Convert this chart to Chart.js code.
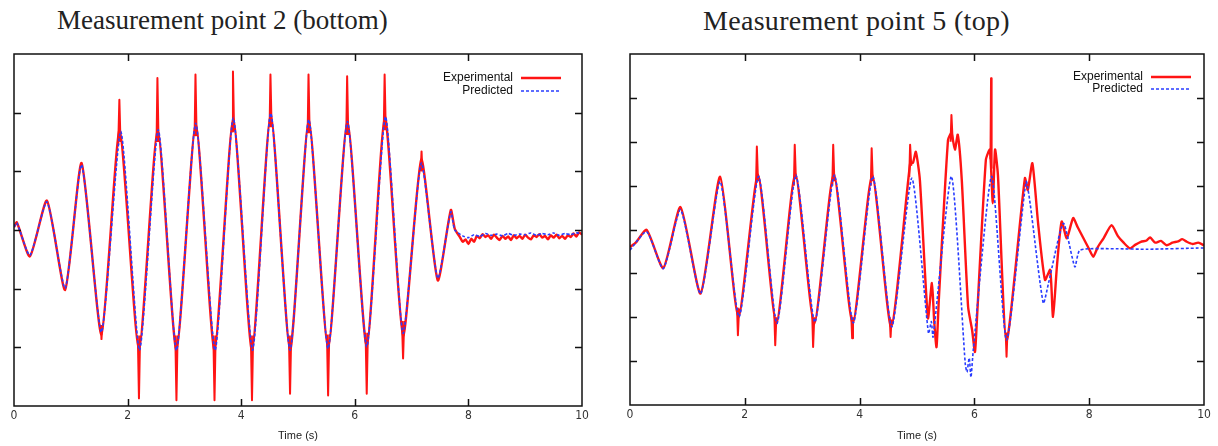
<!DOCTYPE html>
<html>
<head>
<meta charset="utf-8">
<script src="https://cdn.jsdelivr.net/npm/chart.js@4.4.1/dist/chart.umd.min.js"></script>
<style>
  body { margin: 0; background: #fff; width: 1218px; height: 446px; position: relative; overflow: hidden; }
  .title { position: absolute; top: 5px; font-family: "Liberation Serif", "DejaVu Serif", serif; font-size: 27px; color: #222; white-space: nowrap; }
  .box { position: absolute; top: 0; height: 446px; }
</style>
</head>
<body>
<div class="title" style="left:57px">Measurement point 2 (bottom)</div>
<div class="title" style="left:703px;font-size:28px;letter-spacing:0.3px">Measurement point 5 (top)</div>
<div class="box" style="left:0;width:610px"><canvas id="left" width="610" height="446"></canvas></div>
<div class="box" style="left:610px;width:608px"><canvas id="right" width="608" height="446"></canvas></div>
<script>
// [time (s), value]; [t, null] breaks the line
const xTicks = [0, 2, 4, 6, 8, 10];

const leftExperimental = [
  [0.00, 0.05], [0.05, 0.13], [0.28, -0.45], [0.58, 0.50], [0.90, -1.02], [1.19, 1.14],
  [1.54, -1.78], [1.86, 1.70], [2.20, -2.05], [2.53, 1.72], [2.86, -2.05], [3.20, 1.82],
  [3.53, -2.05], [3.86, 1.91], [4.19, -2.05], [4.52, 1.98], [4.86, -2.05], [5.19, 1.88],
  [5.53, -2.02], [5.87, 1.86], [6.21, -1.99], [6.53, 1.93], [6.85, -1.80], [7.17, 1.20],
  [7.46, -0.86], [7.69, 0.34], [7.76, 0.02],
  [7.85, -0.12], [7.90, -0.20], [7.95, -0.16], [8.00, -0.24], [8.05, -0.15], [8.10, -0.20], [8.15, -0.10],
  [8.20, -0.14], [8.25, -0.07], [8.30, -0.12], [8.35, -0.09], [8.40, -0.15], [8.45, -0.08], [8.50, -0.13],
  [8.55, -0.17], [8.60, -0.10], [8.65, -0.15], [8.70, -0.11], [8.75, -0.17], [8.80, -0.09], [8.85, -0.14],
  [8.90, -0.10], [8.95, -0.15], [9.00, -0.08], [9.05, -0.13], [9.10, -0.16], [9.15, -0.09], [9.20, -0.12],
  [9.25, -0.07], [9.30, -0.13], [9.35, -0.10], [9.40, -0.16], [9.45, -0.09], [9.50, -0.13], [9.55, -0.08],
  [9.60, -0.14], [9.65, -0.10], [9.70, -0.15], [9.75, -0.09], [9.80, -0.12], [9.85, -0.06], [9.90, -0.11],
  [9.95, -0.04], [10.00, -0.08]
];

// narrow spikes of the measured signal at the peaks and troughs
const leftExperimentalSpikes = [
  [1.53, -1.62], [1.54, -1.86], [1.555, -1.62], [1.56, null],
  [1.835, 1.45], [1.855, 2.22], [1.875, 1.50], [1.88, null],
  [2.18, -1.80], [2.20, -2.87], [2.22, -1.80], [2.23, null],
  [2.51, 1.50], [2.525, 2.59], [2.545, 1.50], [2.55, null],
  [2.84, -1.80], [2.86, -2.90], [2.88, -1.80], [2.89, null],
  [3.18, 1.60], [3.195, 2.65], [3.215, 1.60], [3.22, null],
  [3.51, -1.80], [3.53, -2.90], [3.55, -1.80], [3.56, null],
  [3.84, 1.68], [3.855, 2.70], [3.875, 1.68], [3.88, null],
  [4.17, -1.80], [4.19, -2.90], [4.21, -1.80], [4.22, null],
  [4.50, 1.75], [4.515, 2.65], [4.535, 1.75], [4.54, null],
  [4.84, -1.80], [4.86, -2.79], [4.88, -1.80], [4.89, null],
  [5.17, 1.65], [5.185, 2.65], [5.205, 1.65], [5.21, null],
  [5.51, -1.78], [5.53, -2.82], [5.55, -1.78], [5.56, null],
  [5.85, 1.62], [5.865, 2.62], [5.885, 1.62], [5.89, null],
  [6.19, -1.75], [6.21, -2.79], [6.23, -1.75], [6.24, null],
  [6.51, 1.70], [6.525, 2.65], [6.545, 1.70], [6.55, null],
  [6.83, -1.55], [6.85, -2.19], [6.87, -1.55], [6.88, null],
  [7.16, 1.00], [7.175, 1.34], [7.19, 1.00]
];

const leftPredicted = [
  [0.00, 0.05], [0.05, 0.12], [0.28, -0.43], [0.58, 0.48], [0.90, -0.99], [1.19, 1.11],
  [1.54, -1.74], [1.88, 1.68], [2.21, -2.05], [2.54, 1.71], [2.86, -2.05], [3.20, 1.82],
  [3.54, -2.05], [3.86, 1.91], [4.20, -2.05], [4.52, 1.99], [4.86, -2.05], [5.19, 1.88],
  [5.53, -2.02], [5.87, 1.85], [6.21, -1.99], [6.54, 1.93], [6.85, -1.76], [7.17, 1.14],
  [7.46, -0.82], [7.69, 0.31], [7.76, 0.00], [7.90, -0.10], [8.00, -0.13], [8.10, -0.08],
  [8.20, -0.11], [8.30, -0.06], [8.40, -0.09], [8.50, -0.07], [8.60, -0.10], [8.70, -0.06],
  [8.80, -0.09], [8.90, -0.07], [9.00, -0.08], [9.10, -0.05], [9.20, -0.09], [9.30, -0.06],
  [9.40, -0.08], [9.50, -0.05], [9.60, -0.09], [9.70, -0.06], [9.80, -0.08], [9.90, -0.05], [10.00, -0.06]
];

const rightExperimental = [
  [0.00, -0.40], [0.10, -0.30], [0.29, -0.01], [0.58, -0.88], [0.88, 0.51], [1.23, -1.46],
  [1.57, 1.20], [1.89, -2.00], [2.23, 1.25], [2.55, -2.15], [2.88, 1.28], [3.21, -2.15],
  [3.55, 1.28], [3.88, -2.15], [4.22, 1.25], [4.55, -2.22], [4.88, 1.50], [4.93, 1.52],
  [4.98, 1.77], [5.05, 1.13], [5.19, -2.02], [5.26, -1.22], [5.30, -2.10], [5.34, -2.68],
  [5.38, -1.60], [5.54, 2.04], [5.60, 2.20], [5.66, 1.82], [5.71, 2.16], [5.78, 1.13],
  [5.89, -1.76], [5.96, -2.29], [6.01, -2.79], [6.05, -1.90], [6.20, 1.59], [6.27, 1.82],
  [6.32, 0.60], [6.36, 1.82], [6.41, 1.24], [6.56, -2.55], [6.88, 1.17], [6.93, 0.90],
  [7.01, 1.51], [7.11, 0.14], [7.23, -1.15], [7.32, -0.92], [7.37, -1.99], [7.44, -0.80],
  [7.52, 0.18], [7.61, -0.20], [7.72, 0.26], [7.80, 0.05], [7.90, -0.20], [8.00, -0.45],
  [8.07, -0.62], [8.15, -0.40], [8.25, -0.20], [8.39, 0.10], [8.50, -0.15], [8.60, -0.30],
  [8.71, -0.43], [8.80, -0.35], [8.90, -0.28], [9.00, -0.25], [9.06, -0.18], [9.15, -0.30],
  [9.25, -0.26], [9.35, -0.36], [9.45, -0.30], [9.55, -0.27], [9.62, -0.22], [9.70, -0.28],
  [9.80, -0.33], [9.90, -0.30], [10.00, -0.36]
];

const rightExperimentalSpikes = [
  [1.865, -1.80], [1.88, -2.41], [1.90, -1.80], [1.91, null],
  [2.195, 1.00], [2.21, 1.89], [2.23, 1.10], [2.24, null],
  [2.515, -1.95], [2.53, -2.64], [2.55, -2.00], [2.56, null],
  [2.855, 1.00], [2.87, 1.93], [2.89, 1.15], [2.90, null],
  [3.175, -1.95], [3.19, -2.68], [3.21, -2.00], [3.22, null],
  [3.525, 1.00], [3.54, 1.93], [3.56, 1.10], [3.57, null],
  [3.855, -1.95], [3.87, -2.48], [3.885, -2.00], [3.90, null],
  [4.195, 1.00], [4.21, 1.85], [4.23, 1.10], [4.24, null],
  [4.525, -2.00], [4.54, -2.45], [4.555, -2.05], [4.57, null],
  [4.865, 1.20], [4.88, 1.93], [4.90, 1.45], [4.91, null],
  [5.585, 2.00], [5.60, 2.61], [5.62, 2.05], [5.63, null],
  [6.28, 1.60], [6.29, 3.45], [6.30, 1.40], [6.31, null],
  [6.545, -2.35], [6.56, -2.90], [6.575, -2.35]
];

const rightPredicted = [
  [0.00, -0.47], [0.29, -0.05], [0.58, -0.89], [0.88, 0.45], [1.23, -1.46], [1.57, 1.09],
  [1.90, -1.99], [2.24, 1.21], [2.56, -2.14], [2.89, 1.24], [3.22, -2.11], [3.56, 1.24],
  [3.89, -2.13], [4.23, 1.21], [4.56, -2.22], [4.91, 1.17], [5.20, -2.37], [5.25, -2.10], [5.28, -2.45],
  [5.60, 1.21], [5.84, -3.05], [5.87, -3.25], [5.91, -2.93], [5.94, -3.37], [5.98, -2.75],
  [6.30, 1.21], [6.56, -2.52], [6.90, 1.09], [6.97, 0.60], [7.20, -1.68], [7.29, -1.23],
  [7.55, 0.14], [7.75, -0.85], [7.84, -0.47], [8.50, -0.44], [9.00, -0.45], [10.00, -0.42]
];

const RED = 'rgb(255,20,20)';
const BLUE = 'rgb(40,60,255)';

const framePlugin = {
  id: 'frame',
  afterDatasetsDraw(chart, args, opts) {
    const { ctx, chartArea: a, scales: { x, y } } = chart;
    ctx.save();
    ctx.strokeStyle = '#111';
    ctx.lineWidth = 1.5;
    ctx.strokeRect(a.left, a.top, a.right - a.left, a.bottom - a.top);
    ctx.beginPath();
    x.ticks.forEach(t => {
      if (t.value <= x.min || t.value >= x.max) return;
      const px = Math.round(x.getPixelForValue(t.value)) + 0.5;
      ctx.moveTo(px, a.bottom); ctx.lineTo(px, a.bottom - 7);
      ctx.moveTo(px, a.top); ctx.lineTo(px, a.top + 7);
    });
    y.ticks.forEach(t => {
      if (t.value <= y.min || t.value >= y.max) return;
      const py = Math.round(y.getPixelForValue(t.value)) + 0.5;
      ctx.moveTo(a.left, py); ctx.lineTo(a.left + 7, py);
      ctx.moveTo(a.right, py); ctx.lineTo(a.right - 7, py);
    });
    ctx.stroke();

    // gnuplot style key: text then line sample
    ctx.font = '12px "Liberation Sans", Arial, sans-serif';
    ctx.textAlign = 'right';
    ctx.textBaseline = 'middle';
    chart.data.datasets.filter(ds => ds.inKey).forEach((ds, i) => {
      const ly = opts.keyY + i * opts.keyGap;
      ctx.fillStyle = '#111';
      ctx.fillText(ds.label, opts.keyX, ly);
      ctx.strokeStyle = ds.borderColor;
      ctx.lineWidth = ds.borderWidth;
      ctx.setLineDash(ds.borderDash || []);
      ctx.beginPath();
      ctx.moveTo(opts.keyX + 8, ly);
      ctx.lineTo(opts.keyX + 48, ly);
      ctx.stroke();
      ctx.setLineDash([]);
    });
    ctx.restore();
  }
};

const toXY = arr => arr.map(p => ({ x: p[0], y: p[1] }));

function makeChart(id, exp, spikes, pred, yMin, yMax, pad, axisH, key) {
  return new Chart(document.getElementById(id).getContext('2d'), {
    type: 'line',
    data: {
      datasets: [{
        label: 'Experimental',
        inKey: true,
        data: toXY(exp),
        borderColor: RED,
        borderWidth: 2.4,
        pointRadius: 0,
        tension: 0.2,
        order: 3
      }, {
        label: 'Experimental peaks',
        data: toXY(spikes),
        borderColor: RED,
        borderWidth: 2,
        pointRadius: 0,
        tension: 0,
        spanGaps: false,
        borderJoinStyle: 'round',
        order: 2
      }, {
        label: 'Predicted',
        inKey: true,
        data: toXY(pred),
        borderColor: BLUE,
        borderWidth: 1.6,
        borderDash: [3, 2],
        pointRadius: 0,
        tension: 0.2,
        order: 1
      }]
    },
    options: {
      responsive: false,
      animation: false,
      layout: { padding: pad },
      plugins: {
        legend: { display: false },
        tooltip: { enabled: false },
        frame: key
      },
      scales: {
        x: {
          type: 'linear', min: 0, max: 10,
          afterBuildTicks: s => { s.ticks = xTicks.map(v => ({ value: v })); },
          afterFit: s => { s.height = axisH; },
          grid: { display: false, drawTicks: false },
          border: { display: false },
          ticks: { padding: 3, color: '#333', font: { size: 12, family: '"Liberation Sans Narrow", "DejaVu Sans Condensed", sans-serif' }, maxRotation: 0 },
          title: { display: true, text: 'Time (s)', color: '#222', padding: { top: 0, bottom: 3 }, font: { size: 11, family: '"Liberation Sans", Arial, sans-serif' } }
        },
        y: {
          min: yMin, max: yMax,
          ticks: { display: false, stepSize: 1 },
          afterFit: s => { s.width = 0; },
          grid: { display: false, drawTicks: false },
          border: { display: false }
        }
      }
    },
    plugins: [framePlugin]
  });
}

makeChart('left', leftExperimental, leftExperimentalSpikes, leftPredicted, -3, 3,
  { left: 14, right: 28, top: 54, bottom: 0 }, 40, { keyX: 513, keyY: 78, keyGap: 13 });
makeChart('right', rightExperimental, rightExperimentalSpikes, rightPredicted, -4, 4,
  { left: 20, right: 14, top: 54, bottom: 0 }, 41, { keyX: 533, keyY: 77, keyGap: 12 });
</script>
</body>
</html>
